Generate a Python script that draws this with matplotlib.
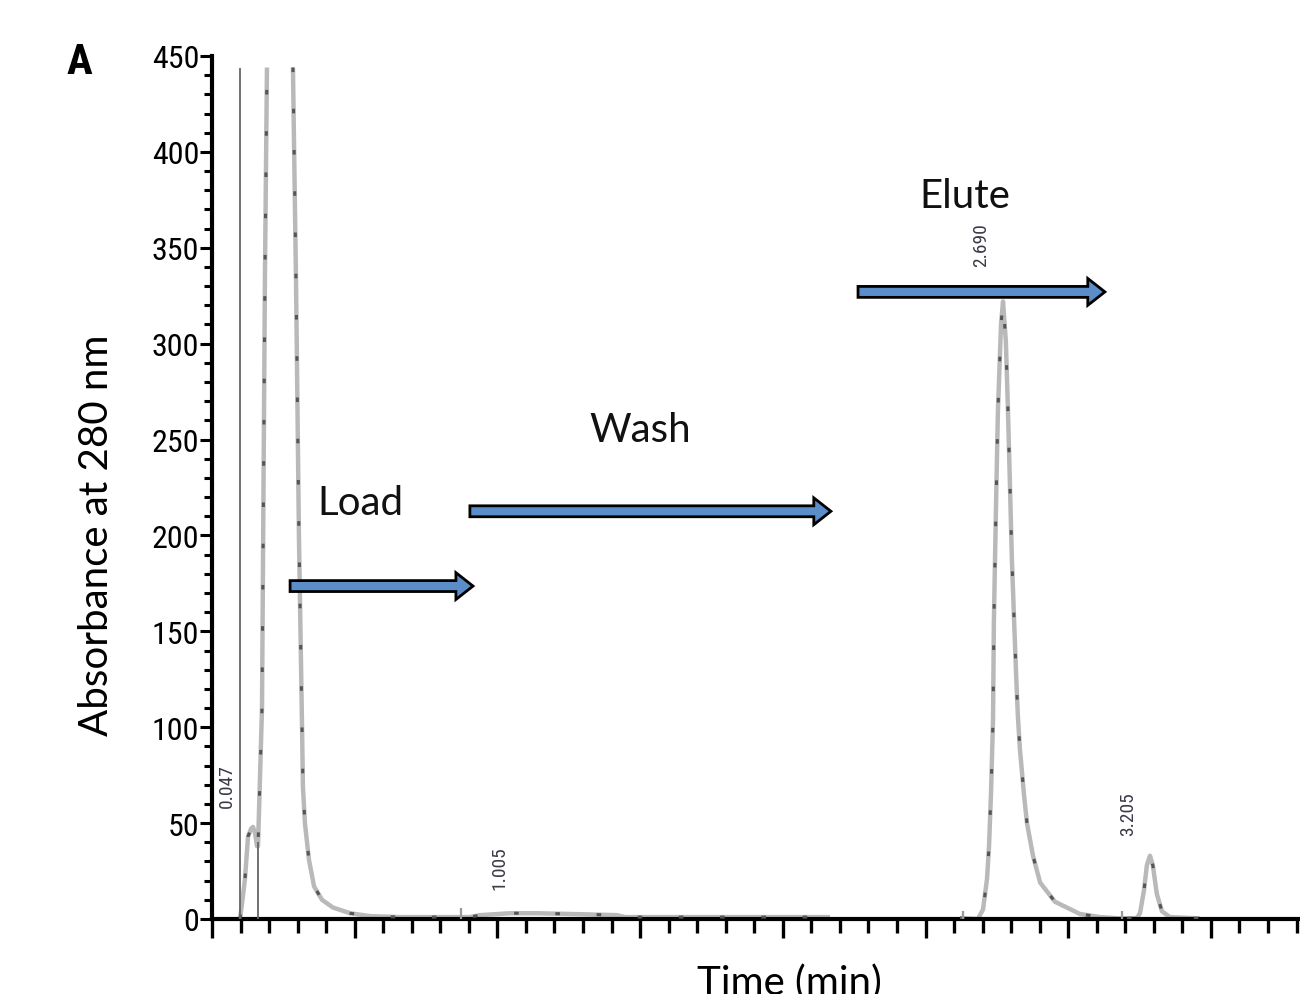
import numpy as np
import matplotlib
matplotlib.use("Agg")
import matplotlib.pyplot as plt
from matplotlib.patches import FancyArrow

# chromatogram trace, time in min, absorbance at 280 nm (nan = off scale / gap)
load_t = [0.0175, 0.0245, 0.035, 0.0456, 0.056, 0.063, 0.070, 0.077,
          0.0806, 0.0946, 0.105, 0.112, np.nan,
          0.203, 0.214, 0.224, 0.235, 0.238, 0.245, 0.259, 0.277, 0.305,
          0.343, 0.403, 0.473, 0.578, 0.823, 0.858, 0.964, 1.058, 1.209,
          1.338, 1.367, 2.085]
load_a = [0, 8, 21, 43, 47, 48, 45, 38,
          38, 110, 337, 444, np.nan,
          444, 330, 200, 99, 69, 50, 31, 17, 10,
          6, 3, 1.5, 1, 1, 2, 3, 3, 2.5,
          2, 1, 1]

elute_t = [2.540, 2.603, 2.621, 2.635, 2.642, 2.649, 2.656, 2.659, 2.666,
           2.673, 2.684, 2.691, 2.701, 2.708, 2.715, 2.722, 2.730, 2.737,
           2.743, 2.750, 2.765, 2.775, 2.796, 2.821, 2.873, 2.961, 3.031,
           3.101, 3.160, 3.171, 3.185, 3.195, 3.206, 3.216, 3.230, 3.248,
           3.276, 3.381]
elute_a = [0.5, 0, 5, 21, 38, 66, 104, 155, 212,
           264, 310, 322, 301, 267, 228, 188, 155, 127,
           106, 89, 64, 50, 33, 19, 9, 2.6, 1,
           0.3, 0.5, 3, 15, 28, 33, 28, 13, 4,
           1, 0.3]

# event / integration marks
mark_t = [0.0175, 0.0806, 0.792, 2.551, 3.108]
mark_h = [444, 40, 5.7, 4, 4]

# peak labels
peak_names = ["0.047", "1.005", "2.690", "3.205"]
peak_t = [0.047, 1.005, 2.690, 3.205]
peak_label_y = [70, 27, 352, 55]

# step arrows
steps = ["Load", "Wash", "Elute"]
step_text_x = [0.438, 1.419, 2.558]
step_text_y = [217, 255, 377]
arrow_x0 = [0.193, 0.823, 2.183]
arrow_x1 = [0.834, 2.088, 3.048]
arrow_y = [173.6, 212.6, 327]

T_LEFT = -0.0806
T_RIGHT = 3.84
NARROW = ["Roboto Condensed", "Liberation Sans Narrow", "DejaVu Sans"]

fig = plt.figure(figsize=(13, 9.95), dpi=100)
ax = fig.add_axes([212 / 1300, 75 / 995, (T_RIGHT - T_LEFT) * 285.4 / 1300, 863 / 995])

for tt, aa in [(load_t, load_a), (elute_t, elute_a)]:
    ax.plot(tt, aa, color="#b9b9b9", lw=3.2, solid_capstyle="butt", zorder=2)
    ax.plot(tt, aa, color="#555555", lw=2.2, ls=(0, (1.5, 12)), zorder=3)

ax.vlines(mark_t[:2], 0, mark_h[:2], color="#666666", lw=1.3, zorder=3)
ax.vlines(mark_t[2:], 0, mark_h[2:], color="#999999", lw=1.6, zorder=3)

for name, t, y in zip(peak_names, peak_t, peak_label_y):
    ax.text(t - 0.077, y, name, rotation=90, ha="center", va="center",
            fontsize=14, color="#3a3a48", family=NARROW)

for x0, x1, y in zip(arrow_x0, arrow_x1, arrow_y):
    ax.add_patch(FancyArrow(x0, y, x1 - x0, 0, width=5.7, head_width=14,
                            head_length=0.06, length_includes_head=True,
                            facecolor="#5b8dc8", edgecolor="black", lw=2, zorder=5))

for s, x, y in zip(steps, step_text_x, step_text_y):
    ax.text(x, y, s, ha="center", va="center", fontsize=29, family="Lato", color="#111111")

ax.set_xlim(T_LEFT, T_RIGHT)
ax.set_ylim(0, 450)
ax.set_xticks(np.arange(T_LEFT, T_RIGHT, 0.5))
ax.set_xticks(np.arange(T_LEFT, T_RIGHT, 0.1), minor=True)
ax.set_xticklabels([])
ax.set_yticks(np.arange(0, 451, 50))
ax.set_yticks(np.arange(0, 451, 10), minor=True)

for sp in ["top", "right"]:
    ax.spines[sp].set_visible(False)
for sp in ["left", "bottom"]:
    ax.spines[sp].set_linewidth(3)
    ax.spines[sp].set_capstyle("projecting")

ax.tick_params(axis="x", which="major", direction="out", length=14, width=2.4)
ax.tick_params(axis="x", which="minor", direction="out", length=10, width=2.4)
ax.tick_params(axis="y", which="major", direction="out", length=9, width=2.2, pad=0)
ax.tick_params(axis="y", which="minor", direction="out", length=6, width=2.2)
for lab in ax.get_yticklabels():
    lab.set_family(NARROW)
    lab.set_fontsize(23)

fig.text(97 / 1300, 1 - 535 / 995, "Absorbance at 280 nm", rotation=90,
         ha="center", va="center", fontsize=29, family="Lato")
fig.text(789 / 1300, 1 - 964 / 995, "Time (min)", ha="center", va="top",
         fontsize=29, family="Lato")
fig.text(79 / 1300, 1 - 62 / 995, "A", ha="center", va="center",
         fontsize=31, fontweight="bold", family=NARROW)

fig.savefig("out.png", dpi=100)
